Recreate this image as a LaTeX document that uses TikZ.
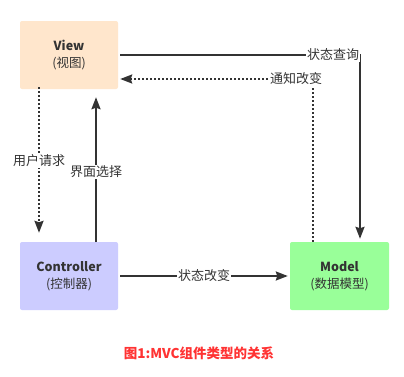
\documentclass[tikz,border=0pt]{standalone}
\usepackage{fontspec}
\setmainfont{Noto Sans CJK SC}
\usetikzlibrary{arrows.meta,calc}
\definecolor{ink}{HTML}{333333}
\definecolor{viewfill}{HTML}{FFE6CC}
\definecolor{ctrlfill}{HTML}{CCCCFF}
\definecolor{modelfill}{HTML}{99FF99}
\definecolor{capred}{HTML}{FF3333}
\tikzset{
  box/.style={rectangle, rounded corners=2pt, minimum width=98pt, minimum height=68pt, align=center, text=ink, inner sep=0pt, font=\fontsize{12.5}{16.5}\selectfont},
  conn/.style={draw=ink, line width=2pt, -{Stealth[length=12pt,width=9pt,inset=1.5pt]}},
  dotconn/.style={conn, dash pattern=on 2pt off 2pt},
  lbl/.style={fill=white, text=ink, inner sep=1pt, font=\fontsize{13}{15}\selectfont}
}
\begin{document}
\begin{tikzpicture}[x=1pt,y=-1pt]
\useasboundingbox[fill=white] (0,0) rectangle (404,376);
\node[box, fill=viewfill] (view) at (69,55) {\textbf{View}\\(视图)};
\node[box, fill=ctrlfill] (ctrl) at (69,276) {\textbf{Controller}\\(控制器)};
\node[box, fill=modelfill, minimum width=99pt] (model) at (339.5,276) {\textbf{Model}\\(数据模型)};
\coordinate (c1) at (360,55);
\coordinate (c2) at (313,79);
\coordinate (c3) at (39,89);
\coordinate (c4) at (96,242);
\draw[conn, shorten >=3pt] ([xshift=2pt]view.east) -- (c1) -- (c1 |- model.north);
\draw[dotconn, shorten >=2pt] (c2 |- model.north) -- (c2) -- (c2 -| view.east);
\draw[dotconn, shorten >=9pt] ([yshift=2pt]c3) -- (c3 |- ctrl.north);
\draw[conn, shorten >=8pt] (c4) -- (c4 |- view.south);
\draw[conn, shorten >=2pt] ([xshift=2pt]ctrl.east) -- (model.west);
\node[lbl] (l1) at (333,55) {状态查询};
\node[lbl] (l2) at (296,79) {通知改变};
\node[lbl] (l3) at (39,161) {用户请求};
\node[lbl] (l4) at (96,172) {界面选择};
\node[lbl] (l5) at (204,276) {状态改变};
\node[text=capred, font=\fontsize{13.5}{15}\selectfont\bfseries] (cap) at (199,353) {图1:MVC组件类型的关系};
\end{tikzpicture}
\end{document}
